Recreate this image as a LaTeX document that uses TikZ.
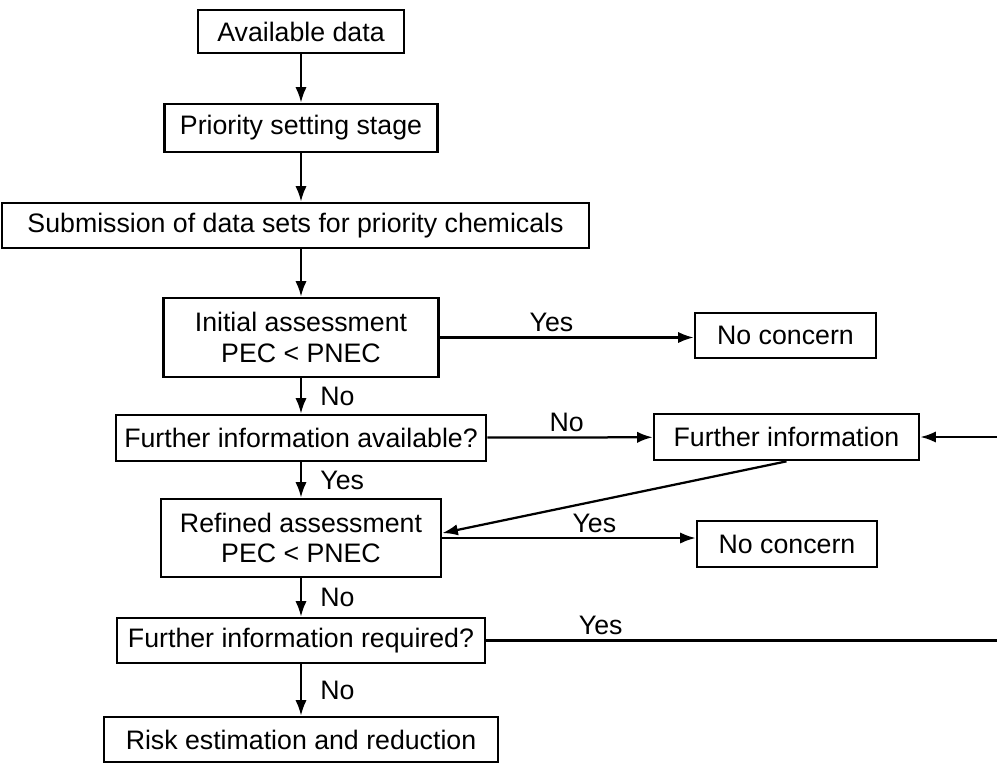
\documentclass[tikz,border=0pt]{standalone}
\usepackage{fontspec}
\setmainfont{Liberation Sans}
\usetikzlibrary{arrows.meta}

\begin{document}
\begin{tikzpicture}[x=0.025cm, y=-0.025cm, >={Latex[length=11pt,width=8pt]}, line width=1.6pt,
                    box/.style={draw, rectangle, line width=1.9pt, align=center, inner sep=0pt, font=\fontsize{19}{21.5}\selectfont},
                    tag/.style={inner sep=3pt, font=\fontsize{19}{21.5}\selectfont}]
                        \useasboundingbox (0, 0) rectangle (997, 763);
                        \node[box, minimum width=5.15cm, minimum height=1.075cm] (avail) at (301, 31.5) {Available data};
                        \node[box, minimum width=6.825cm, minimum height=1.2cm] (prio) at (301, 128) {Priority setting stage};
                        \node[box, minimum width=14.675cm, minimum height=1.125cm] (subm) at (295.5, 225.5) {Submission of data sets for priority chemicals};
                        \node[box, minimum width=6.875cm, minimum height=1.975cm] (init) at (301, 337.5) {Initial assessment\\PEC < PNEC};
                        \node[box, minimum width=4.525cm, minimum height=1.125cm] (nc1) at (785.5, 335.5) {No concern};
                        \node[box, minimum width=9.25cm, minimum height=1.15cm] (avq) at (301, 438) {Further information available?};
                        \node[box, minimum width=6.625cm, minimum height=1.15cm] (finfo) at (786.5, 437) {Further information};
                        \node[box, minimum width=7cm, minimum height=1.95cm] (refined) at (301, 538) {Refined assessment\\PEC < PNEC};
                        \node[box, minimum width=4.5cm, minimum height=1.15cm] (nc2) at (787, 544) {No concern};
                        \node[box, minimum width=9.2cm, minimum height=1.125cm] (req) at (301, 640.5) {Further information required?};
                        \node[box, minimum width=9.85cm, minimum height=1.125cm] (risk) at (301, 739.5) {Risk estimation and reduction};
                        \coordinate (back) at (1006, 540);
                        \draw [->] (avail) -- (prio);
                        \draw [->] (prio) -- (prio |- subm.north);
                        \draw [->] (init |- subm.south) -- (init);
                        \draw [->] (init) -- node[tag, anchor=south, pos=0.44] {Yes} (init -| nc1.west);
                        \draw [->] (init) -- node[tag, anchor=west, xshift=10pt] {No} (avq);
                        \draw [->] (avq) -- node[tag, anchor=south, pos=0.48] {No} (finfo);
                        \draw [->] (avq) -- node[tag, anchor=west, xshift=10pt] {Yes} (refined);
                        \draw [->] (finfo.south) -- (refined.2.5);
                        \draw [->] (refined) -- node[tag, anchor=south, pos=0.6] {Yes} (refined -| nc2.west);
                        \draw [->] (refined) -- node[tag, anchor=west, xshift=10pt] {No} (req);
                        \draw [->] (req) -- node[tag, anchor=west, xshift=10pt] {No} (risk);
                        \draw [->] (req.east) -| node[tag, anchor=south, pos=0.11] {Yes} (back) |- (finfo.east);
                        \end{tikzpicture}
\end{document}
